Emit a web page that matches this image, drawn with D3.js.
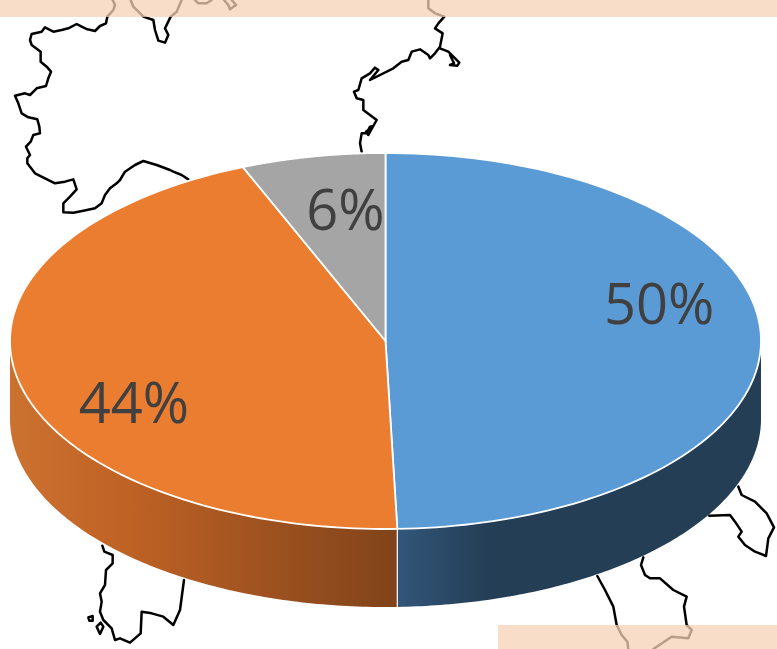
<!DOCTYPE html>
<html><head><meta charset="utf-8">
<style>html,body{margin:0;padding:0;background:#fff;overflow:hidden}svg{display:block}</style>
<script src="https://cdnjs.cloudflare.com/ajax/libs/d3/7.8.5/d3.min.js"></script>
</head><body><svg id="c" width="777" height="649"></svg>
<script>
const categories = ["A", "B", "C"];
const values = [49.5, 44.3, 6.2];
const labels = ["50%", "44%", "6%"];
const topColors = ["#5B9BD5", "#EB7D30", "#A5A5A5"];

// background map outlines, traced in 3x-crop units
const coastTop = [
 [[322,50],[340,30],[345,15],[338,0]],
 [[322,50],[318,70],[300,78],[285,93],[262,88],[245,80],[230,72],[205,85],[185,90],[160,95],[135,82],[125,95],[95,102],[90,120],[95,135],[122,155],[122,185],[140,200],[153,215],[145,235],[138,258],[110,265],[90,285],[75,280],[45,287],[55,310],[65,340],[85,352],[112,358],[118,380],[120,400],[100,405],[92,425],[78,440],[90,465],[82,475],[82,490],[105,520],[135,535],[165,550],[195,545],[220,538],[230,568],[210,590],[190,610],[190,637],[220,638],[250,632],[285,625],[305,610],[315,585],[330,565],[350,550],[360,540],[375,515],[405,495],[430,483],[470,495],[510,510],[520,515],[545,525],[565,538]],
 [[392,0],[400,20],[430,50],[460,60],[465,90],[475,122],[495,128],[505,105],[495,85],[512,50],[530,35],[545,0]],
 [[585,0],[595,10],[620,10],[635,0]],
 [[672,0],[685,15],[690,28],[708,15],[695,0]],
 [[1285,0],[1285,25],[1305,40],[1333,50],[1315,70],[1305,85],[1328,100],[1320,140],[1305,160],[1290,175],[1285,165],[1260,148],[1235,155],[1225,180],[1205,185],[1180,205],[1110,240],[1135,210],[1125,203],[1110,220],[1085,235],[1075,270],[1062,275],[1070,295],[1090,300],[1090,330],[1110,345],[1130,360],[1120,378],[1105,405],[1098,395],[1120,378],[1110,380],[1100,400],[1085,400],[1080,430],[1085,455]],
 [[1320,145],[1345,155],[1360,170],[1378,188],[1372,197],[1350,195],[1362,190],[1350,165]]
];
const coastRight = [
 [[775,50],[785,75],[825,95],[860,130],[882,172],[865,205],[858,258],[825,245],[795,225],[775,200],[785,185],[765,155],[750,135],[688,137]],
 [[490,262],[483,285],[495,315],[510,325],[540,325],[580,360],[620,380],[612,410],[620,465],[635,480],[625,505],[575,500],[520,537]],
 [[352,318],[375,360],[400,410],[410,465],[425,495],[442,515],[445,537]]
];
const coastLeft = [
 [[97,47],[103,65],[128,75],[128,100],[108,120],[105,165],[90,190],[95,215],[90,245],[100,270],[125,295],[135,330],[150,325],[180,338],[212,310],[215,245],[245,250],[280,260],[310,285],[330,240],[342,150]],
 [[55,262],[68,258],[68,272],[58,272],[55,262]],
 [[80,290],[92,278],[100,290],[90,312],[80,290]]
];

const svg = d3.select("#c");
const W = 777, H = 649;
const cx = 385.5, cy = 341, rx = 375.5, ry = 188, depth = 78;
const px = d3.scaleLinear().domain([-1,1]).range([cx-rx, cx+rx]);
const py = d3.scaleLinear().domain([-1,1]).range([cy-ry, cy+ry]);

// map
const mapG = svg.append("g").attr("fill","none").attr("stroke","#000").attr("stroke-width",2.5)
  .attr("stroke-linejoin","round").attr("stroke-linecap","round");
function drawCoast(list, ox, oy){
  const x = d3.scaleLinear().domain([0,3]).range([ox,ox+1]);
  const y = d3.scaleLinear().domain([0,3]).range([oy,oy+1]);
  const line = d3.line().x(d=>x(d[0])).y(d=>y(d[1])).curve(d3.curveLinear);
  mapG.selectAll(null).data(list).enter().append("path").attr("d",line);
}
drawCoast(coastTop,0,0); drawCoast(coastRight,480,470); drawCoast(coastLeft,70,530);

// translucent bands over the map
svg.append("rect").attr("x",0).attr("y",0).attr("width",W).attr("height",17).attr("fill","#F6D1B6").attr("fill-opacity",0.75);
svg.append("rect").attr("x",498).attr("y",625).attr("width",279).attr("height",24).attr("fill","#F6D1B6").attr("fill-opacity",0.75);

// pie
const arcs = d3.pie().sort(null).value(d=>d)(values);
const ex = a => px(Math.sin(a)), ey = a => py(-Math.cos(a));

const defs = svg.append("defs");
function grad(id, x1, x2, stops){
  const g = defs.append("linearGradient").attr("id",id).attr("gradientUnits","userSpaceOnUse")
    .attr("x1",x1).attr("x2",x2).attr("y1",0).attr("y2",0);
  stops.forEach(s=>g.append("stop").attr("offset",s[0]).attr("stop-color",s[1]));
}
const splitA = arcs[0].endAngle;
grad("sideBlue", ex(splitA), cx+rx, [[0,"#32567A"],[0.25,"#243E55"],[1,"#243E55"]]);
grad("sideOrange", cx-rx, ex(splitA), [[0,"#CC7230"],[0.3,"#BF6225"],[1,"#80431A"]]);

const side = d3.area().x(a=>ex(a)).y0(a=>ey(a)).y1(a=>ey(a)+depth);
const samples = (a0,a1) => d3.range(0,121).map(i=>a0+(a1-a0)*i/120);
svg.append("path").attr("d",side(samples(Math.PI/2,splitA))).attr("fill","url(#sideBlue)");
svg.append("path").attr("d",side(samples(splitA,Math.PI*1.5))).attr("fill","url(#sideOrange)");
svg.append("line").attr("x1",ex(splitA)).attr("x2",ex(splitA)).attr("y1",ey(splitA)).attr("y2",ey(splitA)+depth)
  .attr("stroke","#fff").attr("stroke-width",1.2);

const wedge = d => {
  const pts = samples(d.startAngle,d.endAngle).map(a=>[ex(a),ey(a)]);
  return "M"+cx+","+cy+"L"+pts.map(p=>p.join(",")).join("L")+"Z";
};
svg.selectAll("path.top").data(arcs).enter().append("path").attr("class","top")
  .attr("d",wedge).attr("fill",(d,i)=>topColors[i])
  .attr("stroke","#fff").attr("stroke-width",1.8).attr("stroke-linejoin","round");

// labels: offset from each wedge, in unit-ellipse coordinates
const labelAt = [[0.729,-0.2],[-0.67,0.33],[-0.107,-0.696]];
svg.selectAll("text.lab").data(labels).enter().append("text").attr("class","lab")
  .attr("x",(d,i)=>px(labelAt[i][0])).attr("y",(d,i)=>py(labelAt[i][1]))
  .attr("dy","0.36em").attr("text-anchor","middle")
  .attr("font-family","'Open Sans','Noto Sans',sans-serif").attr("font-size",56)
  .attr("fill","#404040").text(d=>d);
</script></body></html>
